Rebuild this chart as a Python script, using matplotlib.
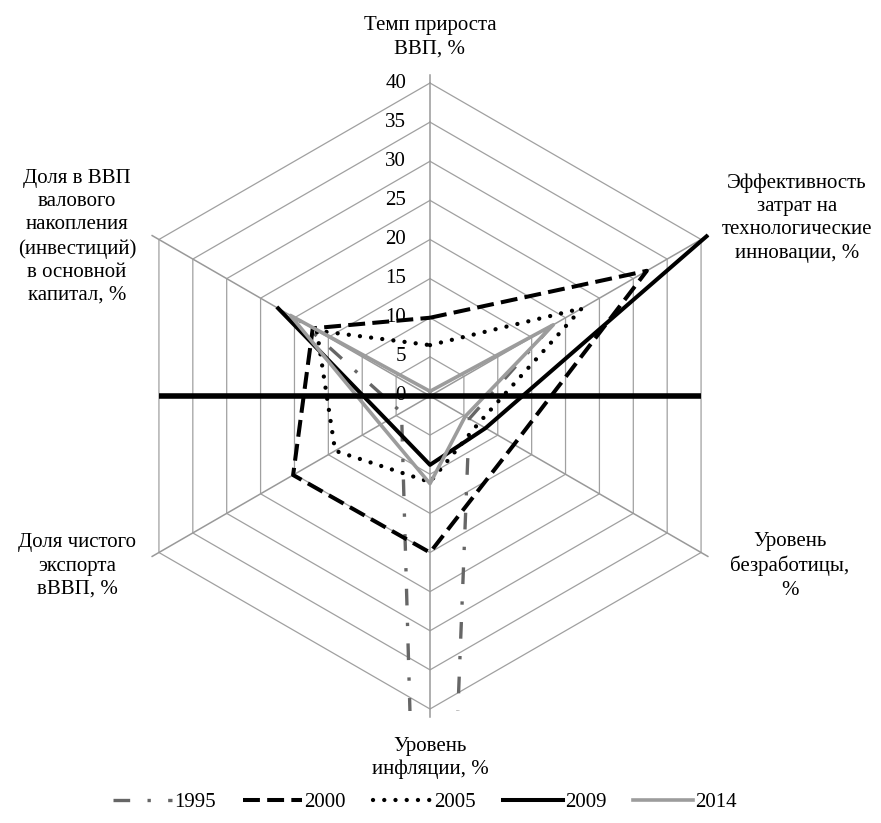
import numpy as np
import matplotlib
matplotlib.use("Agg")
import matplotlib.pyplot as plt
import matplotlib.transforms as mtransforms
from matplotlib.patches import Rectangle

plt.rcParams['font.family'] = ['Liberation Serif', 'DejaVu Serif']
plt.rcParams['font.size'] = 15

# axes of the radar, clockwise from the top
categories = [
    "Темп прироста\nВВП, %",
    "Эффективность\nзатрат на\nтехнологические\nинновации, %",
    "Уровень\nбезработицы,\n%",
    "Уровень\nинфляции, %",
    "Доля чистого\nэкспорта\nвВВП, %",
    "Доля в ВВП\nвалового\nнакопления\n(инвестиций)\nв основной\nкапитал, %",
]

years = ["1995", "2000", "2005", "2009", "2014"]

# values, same order as categories
v1995 = [-4.1, 18.0, 5.8, 131.3, 4.2, 19.2]
v2000 = [10.0, 32.0, 12.4, 20.0, 20.2, 17.3]
v2005 = [6.5, 22.4, 7.1, 11.0, 14.0, 16.7]
v2009 = [-7.8, 40.8, 8.2, 8.8, 6.3, 22.4]
v2014 = [0.6, 18.2, 5.2, 11.2, 7.3, 20.6]

r_ticks = [0, 5, 10, 15, 20, 25, 30, 35, 40]
r_max = 40

# line styles per year
styles = {
    "1995": dict(color='#666666', lw=2.4, ls=(0, (5, 5.2, 1, 5.2))),
    "2000": dict(color='black', lw=2.9, ls=(0, (4.2, 1.8))),
    "2005": dict(color='black', lw=3.1, ls=(0, (0.01, 2.6)), dash_capstyle='round'),
    "2009": dict(color='black', lw=2.9, ls='-'),
    "2014": dict(color='#9c9c9c', lw=2.6, ls='-'),
}
series = [v1995, v2000, v2005, v2009, v2014]

fig = plt.figure(figsize=(8.81, 8.23), dpi=100)
ax = fig.add_axes([117 / 881, 114 / 823, 626 / 881, 626 / 823], projection='polar')
ax.set_theta_offset(np.pi / 2)
ax.set_theta_direction(-1)
ax.set_ylim(0, r_max)
ax.grid(False)
ax.set_xticks([])
ax.set_yticks([])
ax.spines['polar'].set_visible(False)
ax.patch.set_visible(False)

angles = np.linspace(0, 2 * np.pi, len(categories), endpoint=False)
closed = np.r_[angles, angles[0]]

# hexagonal grid
for r in r_ticks[1:]:
    ax.plot(closed, [r] * len(closed), color='#a0a0a0', lw=0.9, zorder=1, clip_on=False)
for a in angles:
    ax.plot([a, a], [0, r_max + 1], color='#999999', lw=1.1, zorder=1, clip_on=False)

# radial tick labels along the top axis
offset = mtransforms.ScaledTranslation(-0.24, 0, fig.dpi_scale_trans)
for r in r_ticks:
    ax.text(0, r, str(r), ha='right', va='center', zorder=2,
            transform=ax.transData + offset)

# plot area clip (lines may run past the outer ring)
clip_rect = Rectangle((-0.2, -0.003), 1.4, 1.3, transform=ax.transAxes)

handles = []
for year, vals in zip(years, series):
    st = styles[year]
    line, = ax.plot(closed, np.r_[vals, vals[0]], color=st['color'], lw=st['lw'],
                    linestyle=st['ls'], label=year, zorder=3,
                    dash_capstyle=st.get('dash_capstyle', 'butt'))
    line.set_clip_path(clip_rect)
    handles.append(line)

# thick horizontal line through the centre, across the outer hexagon
half_width = r_max * np.cos(np.pi / 6)
hline, = ax.plot([np.pi / 2, 3 * np.pi / 2], [half_width, half_width], color='black',
                 lw=4, zorder=4, solid_capstyle='butt')
hline.set_clip_path(clip_rect)

# category labels
label_pos = [(430, 37), (797, 218), (790, 566), (430, 758), (77, 566), (77, 237)]
for text, (px, py) in zip(categories, label_pos):
    fig.text(px / 881, 1 - py / 823, text, ha='center', va='center',
             multialignment='center', linespacing=1.3)

fig.legend(handles=handles, labels=years, loc='center', bbox_to_anchor=(0.482, 0.025),
           ncol=5, frameon=False, handlelength=2.85, handletextpad=0.1,
           columnspacing=1.3)

plt.savefig("out.png", dpi=100)
